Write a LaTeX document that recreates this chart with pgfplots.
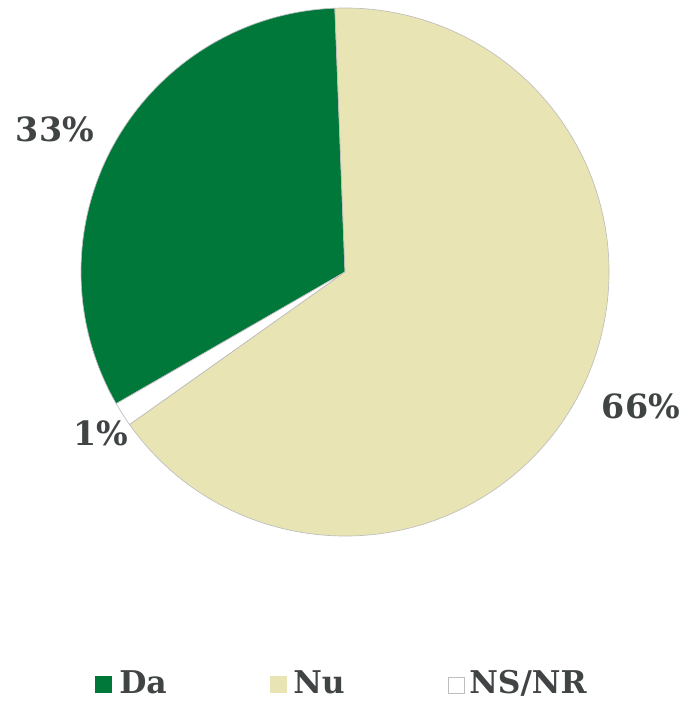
\documentclass[border=0pt]{standalone}
\usepackage{pgfplots}
\pgfplotsset{compat=1.18}
\usepackage{fontspec}
\setmainfont{DejaVu Serif}
\definecolor{cgreen}{RGB}{0,120,58}
\definecolor{cbeige}{RGB}{233,228,179}
\definecolor{ctext}{RGB}{64,68,68}
\definecolor{cedge}{RGB}{190,190,190}
\begin{document}
\begin{tikzpicture}
% values (percent): Da, Nu, NS/NR
\def\vDa{32.7}\def\vNu{65.8}\def\vNS{1.5}
\def\R{198pt}% 264 px * 0.75pt
\pgfmathsetmacro{\aA}{92.2}
\pgfmathsetmacro{\aB}{\aA+3.6*\vDa}
\pgfmathsetmacro{\aC}{\aB+3.6*\vNS}
\pgfmathsetmacro{\aD}{\aC+3.6*\vNu}
\begin{axis}[
  scale only axis, width=516pt, height=528pt,
  xmin=0, xmax=688, ymin=0, ymax=704,
  hide axis, clip=false]
\path (axis cs:0,0) rectangle (axis cs:688,704);
% slices
\filldraw[fill=cgreen, draw=cedge, line width=0.5pt]
  (axis cs:345,432) -- ++(\aA:\R) arc[start angle=\aA, end angle=\aB, radius=\R] -- cycle;
\filldraw[fill=white, draw=cedge, line width=0.5pt]
  (axis cs:345,432) -- ++(\aB:\R) arc[start angle=\aB, end angle=\aC, radius=\R] -- cycle;
\filldraw[fill=cbeige, draw=cedge, line width=0.5pt]
  (axis cs:345,432) -- ++(\aC:\R) arc[start angle=\aC, end angle=\aD, radius=\R] -- cycle;
% data labels
\node[text=ctext, font=\bfseries\fontsize{25}{25}\selectfont] at (axis cs:55,575) {33\%};
\node[text=ctext, font=\bfseries\fontsize{25}{25}\selectfont] at (axis cs:101,271) {1\%};
\node[text=ctext, font=\bfseries\fontsize{25}{25}\selectfont] at (axis cs:641,298) {66\%};
% legend
\fill[cgreen] (axis cs:95,11) rectangle (axis cs:112,28);
\node[anchor=base west, inner sep=0pt, text=ctext, font=\bfseries\fontsize{23.5}{23.5}\selectfont] at (axis cs:119,11) {Da};
\fill[cbeige] (axis cs:270,11) rectangle (axis cs:287,28);
\node[anchor=base west, inner sep=0pt, text=ctext, font=\bfseries\fontsize{23.5}{23.5}\selectfont] at (axis cs:293,11) {Nu};
\filldraw[fill=white, draw=cedge, line width=0.5pt] (axis cs:448,11) rectangle (axis cs:464,27);
\node[anchor=base west, inner sep=0pt, text=ctext, font=\bfseries\fontsize{23.5}{23.5}\selectfont] at (axis cs:469,11) {NS/NR};
\end{axis}
\end{tikzpicture}
\end{document}
